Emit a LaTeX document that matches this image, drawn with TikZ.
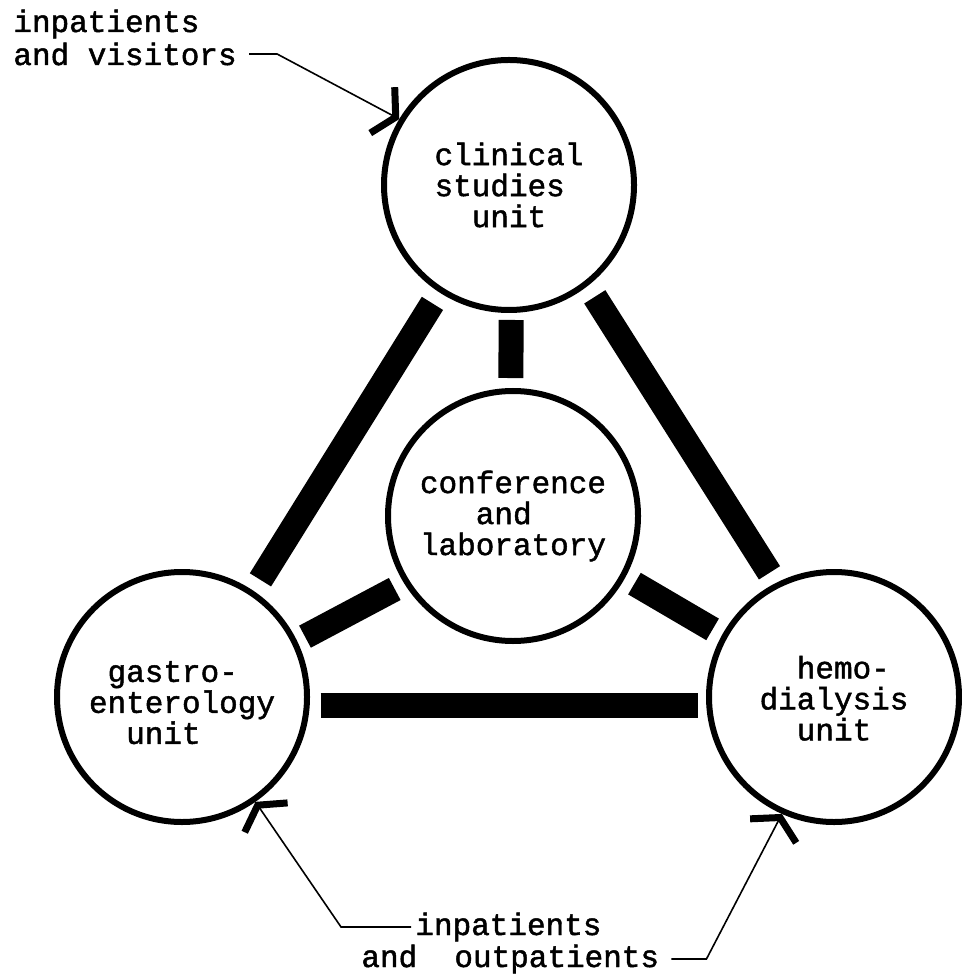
\documentclass[tikz,border=0pt]{standalone}
\usepackage{fontspec}
\setmonofont{Liberation Mono}[RawFeature={embolden=1.5}]
\usetikzlibrary{shapes}
\usetikzlibrary{arrows.meta}

\begin{document}
\begin{tikzpicture}[x=0.5pt,y=-0.5pt]%,on grid
        \tikzstyle{every node}=[font=\ttfamily\fontsize{15.5}{15.5}\selectfont]
        \tikzstyle{ward}=[circle, draw, line width=3pt, minimum size=125pt, inner sep=0pt, align=left]
        \tikzstyle{tie}=[line width=12.5pt, shorten <=5.5pt, shorten >=5.5pt]
        \tikzstyle{feed}=[line width=0.8pt, -{Straight Barb[angle=120:15pt, line width=3.5pt]}]
        \tikzstyle{note}=[inner sep=2pt, anchor=base west]
        \useasboundingbox (0,0) rectangle (961,977);
        \node[ward] (clinical) at (509,185) {clinical\\studies\\\ \ unit};
        \node[ward] (conference) at (513,516) {conference\\\ \ \ and\\laboratory};
        \node[ward] (gastro) at (182,697) {\rule{0pt}{16pt}\ gastro-\\enterology\\\ \ unit};
        \node[ward] (hemo) at (834,697) {\rule{0pt}{12.5pt}\ \ hemo-\\dialysis\\\ \ unit};
        \node[note] (inpat) at (9,32) {inpatients};
        \node[note] (visitors) at (9,65) {and visitors};
        \node[note] (inpat2) at (411,935) {inpatients};
        \node[note] (outpat) at (357,967) {and\ \ outpatients};
        \path [draw,tie,shorten <=3.5pt,shorten >=5pt] (clinical.-89) -- (conference.91);
        \path [draw,tie,shorten <=6.5pt,shorten >=6.5pt] (clinical.-123) -- (gastro.56);
        \path [draw,tie,shorten <=6.5pt,shorten >=6pt] (clinical.-52) -- (hemo.117);
        \path [draw,tie,shorten >=4.5pt] (conference.-148) -- (gastro.26);
        \path [draw,tie] (conference.-29) -- (hemo.151);
        \path [draw,tie,shorten >=4pt] (gastro.-4) -- (hemo.-176);
        \path [draw,feed,shorten <=4pt] (visitors.east) -- ++(36,0) -- (clinical.149);
        \path [draw,feed] (inpat2.west) -- ++(-70,0) -- (gastro.-55);
        \path [draw,feed,shorten <=4pt] (outpat.east) -- ++(43,0) -- (hemo.-114);
      \end{tikzpicture}
\end{document}
